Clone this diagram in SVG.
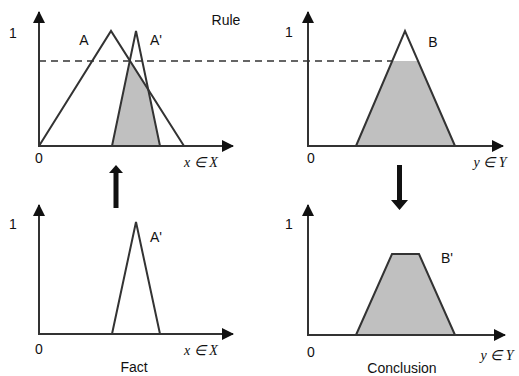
<svg xmlns="http://www.w3.org/2000/svg" width="519" height="376" viewBox="0 0 519 376">
<defs>
<marker id="ah" viewBox="0 0 12 12" refX="11" refY="6" markerWidth="12" markerHeight="12" markerUnits="userSpaceOnUse" orient="auto">
<path d="M0,0 L12,6 L0,12 z" fill="#111"/>
</marker>
<style>
.ax{stroke:#333;stroke-width:2;fill:none;marker-end:url(#ah)}
.mf{stroke:#333;stroke-width:2;fill:none;stroke-linejoin:miter}
.sh{fill:#c0c0c0;stroke:none}
.t{font-family:"Liberation Sans",Arial,sans-serif;font-size:14px;fill:#111}
.m{font-family:"Liberation Serif","Times New Roman",serif;font-style:italic;font-size:14px;fill:#111}
.bar{fill:#111}
</style>
</defs>
<rect width="519" height="376" fill="#fff"/>
<g id="rule-antecedent">
<polygon class="sh" points="112,146 129.8,60.6 148.2,89.7 160,146"/>
<polyline class="mf" points="39,146 111,31 184,146"/>
<polyline class="mf" points="112,146 136,31 160,146"/>
<line class="ax" x1="39" y1="147" x2="39" y2="12"/>
<line class="ax" x1="38" y1="146" x2="233" y2="146"/>
<text class="t" x="13" y="38" text-anchor="middle">1</text>
<text class="t" x="39" y="163" text-anchor="middle">0</text>
<text class="t" x="84" y="45" text-anchor="middle">A</text>
<text class="t" x="156" y="45" text-anchor="middle">A'</text>
<text class="m" x="201" y="167" text-anchor="middle">x ∈ X</text>
<text class="t" x="226" y="25" text-anchor="middle">Rule</text>
</g>
<g id="rule-consequent">
<polygon class="sh" points="356,146 392.2,61 418,61 455,146"/>
<polyline class="mf" points="356,146 405,31 455,146"/>
<line class="ax" x1="308" y1="147" x2="308" y2="12"/>
<line class="ax" x1="307" y1="146" x2="503" y2="146"/>
<text class="t" x="289" y="37" text-anchor="middle">1</text>
<text class="t" x="311" y="163" text-anchor="middle">0</text>
<text class="t" x="433" y="47" text-anchor="middle">B</text>
<text class="m" x="490" y="167" text-anchor="middle">y ∈ Y</text>
</g>
<g id="fact">
<polyline class="mf" points="112,334 136,222 160,334"/>
<line class="ax" x1="39" y1="335" x2="39" y2="205"/>
<line class="ax" x1="38" y1="334" x2="233" y2="334"/>
<text class="t" x="13" y="229" text-anchor="middle">1</text>
<text class="t" x="39" y="354" text-anchor="middle">0</text>
<text class="t" x="156" y="242" text-anchor="middle">A'</text>
<text class="m" x="201" y="355" text-anchor="middle">x ∈ X</text>
<text class="t" x="134" y="372" text-anchor="middle">Fact</text>
</g>
<g id="conclusion">
<polygon class="sh" points="356,335 392,254 419,254 455,335"/>
<polyline class="mf" points="356,335 392,254 419,254 455,335"/>
<line class="ax" x1="308" y1="336" x2="308" y2="205"/>
<line class="ax" x1="307" y1="335" x2="505" y2="335"/>
<text class="t" x="289" y="229" text-anchor="middle">1</text>
<text class="t" x="311" y="357" text-anchor="middle">0</text>
<text class="t" x="447" y="263" text-anchor="middle">B'</text>
<text class="m" x="497" y="360" text-anchor="middle">y ∈ Y</text>
<text class="t" x="402" y="373" text-anchor="middle">Conclusion</text>
</g>
<g id="connectors">
<line x1="39" y1="61" x2="392" y2="61" stroke="#333" stroke-width="1.5" stroke-dasharray="7,5"/>
<path class="bar" d="M113.5,208 L118.5,208 L118.5,173 L123,173 L116,165 L109,173 L113.5,173 z"/>
<path class="bar" d="M397,165 L402,165 L402,200 L408,200 L399.5,210 L391,200 L397,200 z"/>
</g>
</svg>
